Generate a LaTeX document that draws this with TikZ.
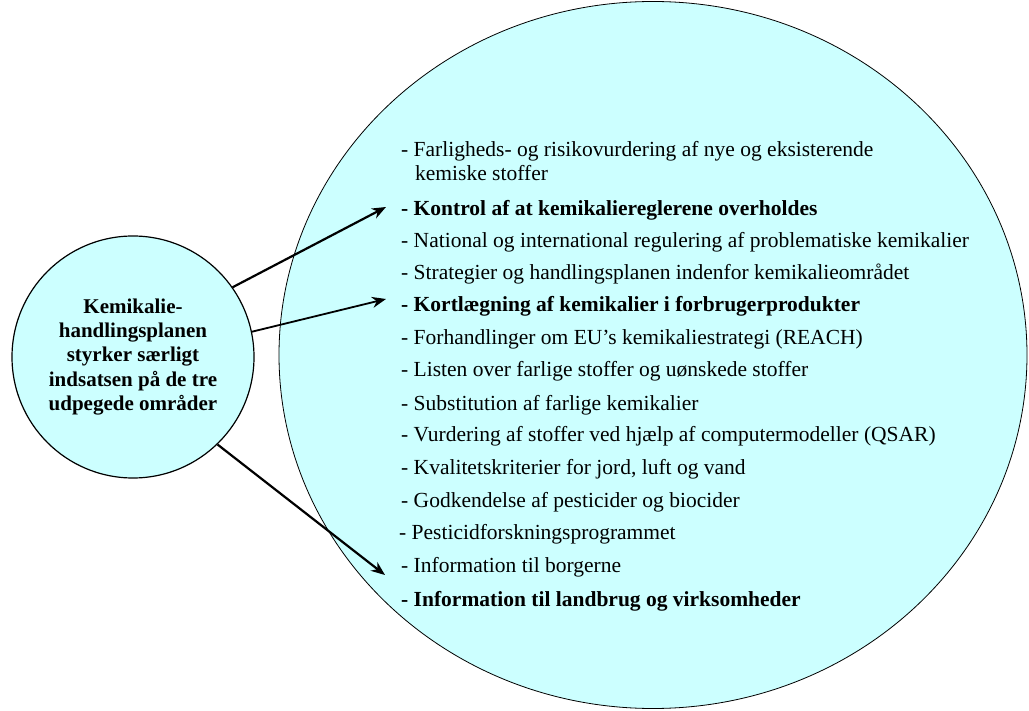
\documentclass[tikz,border=0pt]{standalone}
\usepackage{fontspec}
\setmainfont{Liberation Serif}
\usepackage{tikz}
\usetikzlibrary{shapes.geometric, arrows.meta}
\definecolor{paleCyan}{HTML}{CCFFFF}
\tikzstyle{areaEllipse} = [ellipse, minimum width=748pt, minimum height=707pt, inner sep=0pt, draw=black, line width=0.8pt, fill=paleCyan]
\tikzstyle{planCircle} = [circle, minimum size=242pt, inner sep=0pt, draw=black, line width=1.2pt, fill=paleCyan, align=center, font=\bfseries\fontsize{21}{24.3}\selectfont]
\tikzstyle{listItem} = [anchor=base west, inner sep=0pt, font=\fontsize{21.5}{24}\selectfont]
\tikzstyle{keyItem} = [listItem, font=\bfseries\fontsize{21.5}{24}\selectfont]
\tikzstyle{arrow} = [line width=2.2pt, -{Stealth[length=14pt,width=11pt]}]

\begin{document}
\begin{tikzpicture}[x=1pt, y=-1pt]
\useasboundingbox (0,0) rectangle (1029,711);

\node (areas) [areaEllipse] at (653,355) {};
\node (plan) [planCircle] at (133,357) {Kemikalie-\\handlingsplanen\\styrker særligt\\indsatsen på de tre\\udpegede områder};

\node (farlighed) [listItem] at (401,157) {- Farligheds- og risikovurdering af nye og eksisterende};
\node (kemiske) [listItem] at (415,181) {kemiske stoffer};
\node (kontrol) [keyItem] at (401,216) {- Kontrol af at kemikaliereglerene overholdes};
\node (national) [listItem] at (401,248) {- National og international regulering af problematiske kemikalier};
\node (strategier) [listItem] at (401,280) {- Strategier og handlingsplanen indenfor kemikalieområdet};
\node (kortlaeg) [keyItem] at (401,312) {- Kortlægning af kemikalier i forbrugerprodukter};
\node (forhandl) [listItem] at (401,345) {- Forhandlinger om EU's kemikaliestrategi (REACH)};
\node (listen) [listItem] at (401,377) {- Listen over farlige stoffer og uønskede stoffer};
\node (substit) [listItem] at (401,410) {- Substitution af farlige kemikalier};
\node (vurdering) [listItem] at (401,442) {- Vurdering af stoffer ved hjælp af computermodeller (QSAR)};
\node (kvalitet) [listItem] at (401,475) {- Kvalitetskriterier for jord, luft og vand};
\node (godkend) [listItem] at (401,507) {- Godkendelse af pesticider og biocider};
\node (pesticid) [listItem] at (399,539) {- Pesticidforskningsprogrammet};
\node (borgere) [listItem] at (401,572) {- Information til borgerne};
\node (landbrug) [keyItem] at (401,606) {- Information til landbrug og virksomheder};

\coordinate (kontrolTip) at (386,207);
\coordinate (kortlaegTip) at (386,299);
\coordinate (borgereTip) at (385,575);

\draw [arrow] (plan.35) -- (kontrolTip);
\draw [arrow, line width=1.8pt] (plan.12) -- (kortlaegTip);
\draw [arrow] (plan.-46) -- (borgereTip);
\end{tikzpicture}
\end{document}
